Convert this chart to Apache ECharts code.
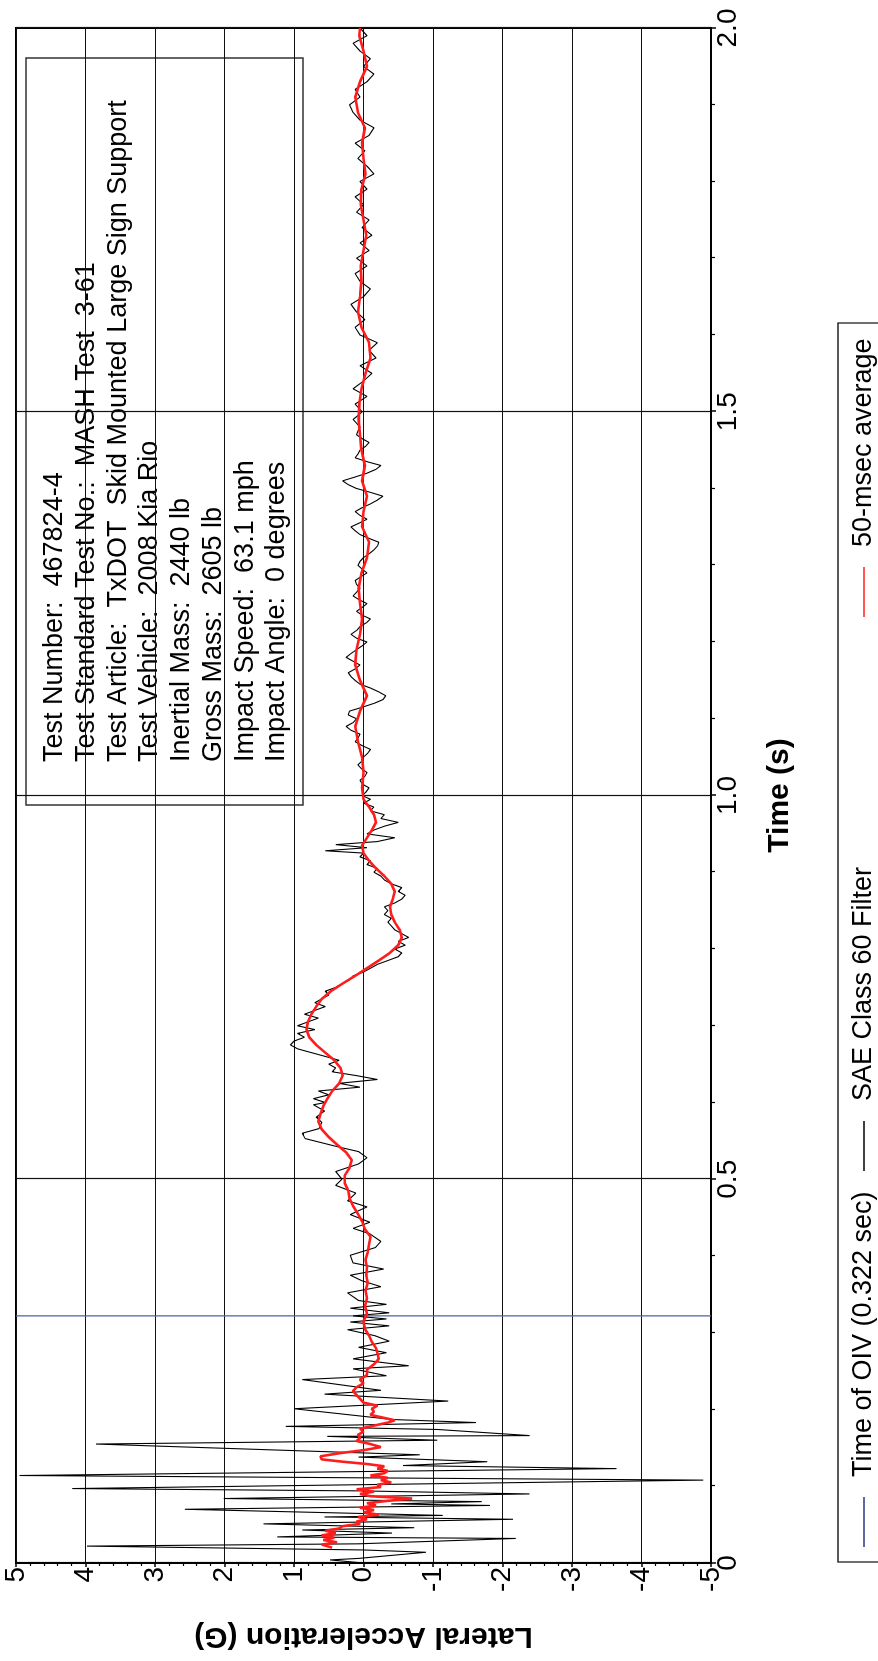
<!DOCTYPE html>
<html><head><meta charset="utf-8">
<script src="https://cdn.jsdelivr.net/npm/echarts@6.0.0/dist/echarts.min.js"></script>
<style>
html,body{margin:0;padding:0;background:#fff;overflow:hidden;width:878px;height:1661px;}
#wrap{position:absolute;left:0;top:0;width:1661px;height:878px;transform-origin:0 0;transform:translateY(1661px) rotate(-90deg);}
</style></head><body><div id="wrap"></div>
<script>
// ---- data ----
const seriesNames = ['Time of OIV (0.322 sec)', 'SAE Class 60 Filter', '50-msec average'];
const oivTime = [0.322];
const timeRange = [0, 2];
const accelRange = [-5, 5];
const infoLines = [
  'Test Number:  467824-4',
  'Test Standard Test No.:  MASH Test  3-61',
  'Test Article:  TxDOT  Skid Mounted Large Sign Support',
  'Test Vehicle:  2008 Kia Rio',
  'Inertial Mass:  2440 lb',
  'Gross Mass:  2605 lb',
  'Impact Speed:  63.1 mph',
  'Impact Angle:  0 degrees'
];
// SAE Class 60 filtered trace [time s, accel G]
const saeEarly = [[0.000,0.00],[0.004,0.48],[0.006,0.07],[0.014,-0.90],[0.017,0.00],[0.022,3.98],[0.025,0.07],[0.032,-2.19],[0.034,1.24],[0.039,-0.41],[0.043,0.88],[0.046,-0.73],[0.051,1.44],[0.057,-2.15],[0.060,0.56],[0.062,-1.14],[0.070,2.57],[0.075,-1.82],[0.077,-0.40],[0.080,-1.70],[0.084,2.01],[0.090,-2.39],[0.094,0.07],[0.097,4.19],[0.108,-4.89],[0.114,4.95],[0.123,-3.64],[0.127,-0.57],[0.132,-1.78],[0.138,0.07],[0.141,-0.81],[0.155,3.85],[0.160,-1.06],[0.165,0.52],[0.166,-2.39],[0.174,-1.06],[0.178,1.12],[0.183,-1.62],[0.187,-0.41],[0.201,1.00],[0.211,-1.22],[0.220,0.56],[0.225,-0.25],[0.239,0.88],[0.244,-0.33],[0.253,0.15],[0.257,-0.65],[0.266,0.15],[0.274,-0.33],[0.281,0.07],[0.289,-0.37],[0.296,-0.17]];
const saeMid = [[0.304,0.23],[0.309,-0.37],[0.314,0.19],[0.318,-0.33],[0.322,0.15],[0.326,-0.37],[0.332,0.19],[0.337,-0.33],[0.342,0.07],[0.352,0.23],[0.360,-0.25],[0.368,0.03],[0.375,0.19],[0.383,-0.29],[0.391,0.15],[0.401,0.19],[0.411,-0.17],[0.419,-0.25],[0.429,-0.09],[0.436,0.15],[0.444,-0.09],[0.454,0.19],[0.464,-0.05],[0.472,0.23],[0.482,0.11],[0.492,0.40],[0.500,0.31],[0.510,0.40],[0.520,0.07],[0.528,-0.05],[0.536,0.07],[0.543,0.40],[0.553,0.84],[0.560,0.88],[0.566,0.64],[0.574,0.60],[0.581,0.68],[0.589,0.56],[0.597,0.72],[0.600,0.55],[0.605,0.72],[0.610,0.50],[0.615,0.65],[0.620,0.05],[0.625,0.35],[0.630,-0.20],[0.635,0.10],[0.640,0.45],[0.645,0.40],[0.650,0.50],[0.655,0.35],[0.660,0.55],[0.665,0.75],[0.670,0.95],[0.675,1.05],[0.680,1.00],[0.685,0.85],[0.690,0.95],[0.695,0.70],[0.700,0.95],[0.705,0.80],[0.710,0.65],[0.715,0.85],[0.720,0.70],[0.725,0.55],[0.730,0.70],[0.735,0.60],[0.740,0.50],[0.745,0.55],[0.750,0.40],[0.755,0.30],[0.760,0.20],[0.765,0.15],[0.770,0.00],[0.775,-0.10],[0.780,-0.20],[0.785,-0.35],[0.790,-0.50],[0.795,-0.55],[0.800,-0.45],[0.805,-0.60],[0.810,-0.50],[0.815,-0.65],[0.820,-0.55],[0.825,-0.45],[0.830,-0.40],[0.835,-0.35],[0.840,-0.40],[0.845,-0.30],[0.850,-0.35],[0.855,-0.30],[0.860,-0.45],[0.865,-0.55],[0.870,-0.60],[0.875,-0.50],[0.880,-0.55],[0.885,-0.40],[0.890,-0.30],[0.895,-0.25],[0.900,-0.15],[0.905,-0.20],[0.910,-0.05],[0.915,-0.10],[0.920,0.05],[0.925,0.00],[0.928,0.55],[0.932,-0.05],[0.936,0.40],[0.940,-0.20],[0.945,-0.45],[0.950,-0.05],[0.955,-0.15],[0.960,-0.30],[0.965,-0.50],[0.970,-0.25],[0.975,-0.30],[0.980,-0.10],[0.985,-0.15],[0.990,0.00],[0.995,-0.10]];
const saeLate = [[1.00,0.02],[1.005,-0.04],[1.01,-0.08],[1.015,0.02],[1.02,0.05],[1.025,-0.02],[1.03,-0.05],[1.035,0.03],[1.04,0.08],[1.045,0.02],[1.05,0.00],[1.055,-0.06],[1.06,-0.10],[1.065,0.02],[1.07,0.12],[1.075,0.08],[1.08,0.05],[1.085,0.18],[1.09,0.25],[1.095,0.15],[1.10,0.10],[1.105,0.22],[1.11,0.20],[1.115,0.02],[1.12,-0.15],[1.125,-0.28],[1.13,-0.32],[1.135,-0.22],[1.14,-0.10],[1.145,0.05],[1.15,0.12],[1.155,0.18],[1.16,0.22],[1.165,0.12],[1.17,0.05],[1.175,0.15],[1.18,0.25],[1.185,0.18],[1.19,0.10],[1.195,0.02],[1.20,-0.05],[1.205,0.10],[1.21,0.18],[1.215,0.10],[1.22,0.05],[1.225,-0.04],[1.23,-0.10],[1.235,0.02],[1.24,0.10],[1.245,0.02],[1.25,-0.05],[1.255,0.06],[1.26,0.15],[1.265,0.10],[1.27,0.05],[1.275,0.10],[1.28,0.12],[1.285,0.04],[1.29,-0.05],[1.295,0.02],[1.30,0.08],[1.305,0.05],[1.31,0.00],[1.315,-0.08],[1.32,-0.15],[1.325,-0.20],[1.33,-0.22],[1.335,-0.08],[1.34,0.05],[1.345,0.12],[1.35,0.18],[1.355,0.06],[1.36,-0.05],[1.365,0.05],[1.37,0.12],[1.375,0.02],[1.38,-0.10],[1.385,-0.20],[1.39,-0.28],[1.395,-0.10],[1.40,0.10],[1.405,0.22],[1.41,0.30],[1.415,0.12],[1.42,-0.05],[1.425,-0.18],[1.43,-0.25],[1.435,-0.05],[1.44,0.12],[1.445,0.08],[1.45,0.05],[1.455,-0.03],[1.46,-0.08],[1.465,0.02],[1.47,0.10],[1.475,0.08],[1.48,0.05],[1.485,0.10],[1.49,0.15],[1.495,0.08],[1.50,0.02],[1.51,0.12],[1.52,-0.05],[1.53,0.15],[1.54,0.00],[1.55,-0.12],[1.56,0.05],[1.57,-0.18],[1.58,-0.08],[1.59,-0.20],[1.60,0.05],[1.61,0.12],[1.62,-0.02],[1.63,0.10],[1.64,0.18],[1.65,0.00],[1.66,-0.10],[1.67,0.05],[1.68,0.12],[1.69,-0.05],[1.70,0.10],[1.71,-0.08],[1.72,0.05],[1.73,-0.12],[1.74,0.02],[1.75,-0.08],[1.76,0.10],[1.77,0.00],[1.78,0.12],[1.79,-0.05],[1.80,0.05],[1.81,-0.15],[1.82,-0.05],[1.83,0.08],[1.84,-0.02],[1.85,0.12],[1.86,-0.08],[1.87,-0.15],[1.88,0.05],[1.89,0.15],[1.90,0.20],[1.91,0.05],[1.92,0.12],[1.93,-0.05],[1.94,-0.15],[1.95,0.00],[1.96,-0.10],[1.97,0.05],[1.98,0.15],[1.99,-0.05],[2.00,0.05]];
// 50-msec moving average [time s, accel G]
const avgEarly = [[0.020,0.45],[0.024,0.60],[0.027,0.38],[0.030,0.58],[0.033,0.42],[0.036,0.60],[0.039,0.40],[0.042,0.55],[0.045,0.35],[0.048,0.30],[0.051,0.05],[0.054,0.10],[0.057,-0.05],[0.060,0.08],[0.063,-0.22],[0.066,0.00],[0.069,-0.15],[0.072,0.05],[0.075,-0.18],[0.078,-0.05],[0.081,-0.35],[0.084,-0.70],[0.087,-0.10],[0.090,0.05],[0.093,-0.15],[0.096,0.10],[0.099,-0.25],[0.102,-0.20],[0.105,-0.40],[0.108,-0.25],[0.111,-0.35],[0.114,-0.10],[0.117,-0.30],[0.120,-0.35],[0.123,-0.20],[0.126,-0.30],[0.129,-0.05],[0.132,0.30],[0.135,0.60],[0.139,0.62],[0.143,0.35],[0.147,0.00],[0.151,-0.25],[0.155,-0.10],[0.159,0.10],[0.163,0.05],[0.167,0.08],[0.171,0.00],[0.175,0.05],[0.179,-0.15],[0.183,-0.35],[0.186,-0.45],[0.189,-0.30],[0.193,-0.10],[0.197,-0.15],[0.201,-0.12],[0.205,-0.20],[0.209,0.00],[0.214,0.05],[0.219,0.10],[0.224,0.15],[0.229,0.10],[0.234,0.00],[0.239,0.05],[0.245,-0.05],[0.252,-0.05],[0.259,-0.15],[0.266,-0.22],[0.273,-0.20],[0.280,-0.18],[0.288,-0.12],[0.296,-0.08],[0.305,-0.02],[0.315,0.00],[0.325,-0.05],[0.335,-0.02],[0.345,-0.05],[0.355,-0.03],[0.365,-0.06],[0.375,-0.04],[0.385,-0.05],[0.395,-0.03],[0.405,-0.06],[0.415,-0.08],[0.425,-0.10],[0.435,-0.02],[0.445,0.02],[0.455,0.08],[0.465,0.15],[0.475,0.20],[0.485,0.22],[0.495,0.27]];
const avgLate = [[0.505,0.27],[0.515,0.20],[0.525,0.17],[0.535,0.25],[0.545,0.38],[0.555,0.50],[0.565,0.60],[0.575,0.65],[0.585,0.62],[0.595,0.58],[0.605,0.52],[0.615,0.45],[0.625,0.35],[0.635,0.30],[0.645,0.33],[0.655,0.42],[0.665,0.55],[0.675,0.68],[0.685,0.78],[0.695,0.82],[0.705,0.80],[0.715,0.75],[0.725,0.68],[0.735,0.60],[0.745,0.47],[0.755,0.30],[0.765,0.12],[0.775,-0.05],[0.785,-0.22],[0.795,-0.38],[0.805,-0.50],[0.815,-0.55],[0.825,-0.52],[0.835,-0.45],[0.845,-0.40],[0.855,-0.38],[0.865,-0.42],[0.875,-0.45],[0.885,-0.40],[0.895,-0.30],[0.905,-0.18],[0.915,-0.08],[0.925,0.00],[0.935,0.02],[0.945,-0.05],[0.955,-0.12],[0.965,-0.18],[0.975,-0.15],[0.985,-0.08],[0.995,0.00],[1.01,0.02],[1.03,0.00],[1.05,0.02],[1.07,0.08],[1.09,0.12],[1.11,0.05],[1.13,-0.05],[1.15,0.05],[1.17,0.12],[1.19,0.10],[1.21,0.05],[1.23,0.02],[1.25,0.05],[1.27,0.07],[1.29,0.03],[1.31,-0.05],[1.33,-0.08],[1.35,0.02],[1.37,0.00],[1.39,-0.05],[1.41,0.02],[1.43,-0.02],[1.45,0.03],[1.47,0.05],[1.49,0.07],[1.51,0.06],[1.53,0.03],[1.55,-0.03],[1.57,-0.10],[1.59,-0.08],[1.61,0.03],[1.63,0.08],[1.65,0.05],[1.67,0.03],[1.69,0.04],[1.71,0.00],[1.73,-0.04],[1.75,0.00],[1.77,0.04],[1.79,0.03],[1.81,-0.03],[1.83,0.00],[1.85,0.02],[1.87,-0.02],[1.89,0.08],[1.91,0.12],[1.93,0.05],[1.95,-0.05],[1.97,0.00],[1.99,0.06],[2.00,0.05]];

// ---- chart ----
const FONT = '"Liberation Sans", Arial, Helvetica, sans-serif';
const chart = echarts.init(document.getElementById('wrap'), null, {width: 1661, height: 878, renderer: 'canvas'});
const axisCommon = {
  axisLine: {onZero: false, lineStyle: {color: '#000', width: 2}},
  axisTick: {show: true, inside: false, length: 5, lineStyle: {color: '#000', width: 1.5}},
  minorTick: {show: true, splitNumber: 5, length: 4, lineStyle: {color: '#000', width: 1.2}},
  splitLine: {show: true, lineStyle: {color: '#111', width: 1.2}},
  minorSplitLine: {show: false}
};
const legendText = {fontFamily: FONT, fontSize: 27, color: '#000', lineHeight: 32, padding: [0, 0, 0, 15]};
function legendAt(name, left) {
  return {left: left, top: 848, orient: 'horizontal', data: [name], icon: 'rect',
          itemWidth: 50, itemHeight: 1.5, selectedMode: false, padding: 0, z: 120,
          textStyle: legendText};
}
chart.setOption({
  animation: false,
  backgroundColor: '#fff',
  grid: {left: 98, right: 28, top: 16, bottom: 167, show: true, borderColor: '#000', borderWidth: 2, backgroundColor: 'rgba(0,0,0,0)'},
  xAxis: Object.assign({
    type: 'value', min: timeRange[0], max: timeRange[1], interval: 0.5,
    axisLabel: {fontFamily: FONT, fontSize: 28, color: '#000', margin: 3,
      formatter: v => (v === 0 ? '0' : v.toFixed(1))},
    name: 'Time (s)', nameLocation: 'middle', nameGap: 54,
    nameTextStyle: {fontFamily: FONT, fontSize: 30, fontWeight: 'bold', color: '#000'}
  }, axisCommon),
  yAxis: Object.assign({
    type: 'value', min: accelRange[0], max: accelRange[1], interval: 1,
    axisLabel: {fontFamily: FONT, fontSize: 28, color: '#000', margin: 4},
    name: 'Lateral Acceleration (G)', nameLocation: 'middle', nameRotate: 90, nameGap: 58,
    nameTextStyle: {fontFamily: FONT, fontSize: 30, fontWeight: 'bold', color: '#000'}
  }, axisCommon, {axisTick: {show: true, inside: false, length: 4, lineStyle: {color: '#000', width: 1.5}},
                  minorTick: {show: true, splitNumber: 5, length: 3, lineStyle: {color: '#000', width: 1.2}}}),
  legend: [legendAt(seriesNames[0], 114), legendAt(seriesNames[1], 490), legendAt(seriesNames[2], 1044)],
  graphic: [{
    type: 'group', z: 100,
    children: [
      {type: 'rect', shape: {x: 856, y: 26, width: 747, height: 277},
       style: {fill: '#fff', stroke: '#333', lineWidth: 1.5}},
      {type: 'text', x: 899, y: 39,
       style: {text: infoLines.join('\n'), fontFamily: FONT, fontSize: 27, lineHeight: 31.7,
               fill: '#000', align: 'left', verticalAlign: 'top'}},
      {type: 'rect', shape: {x: 99, y: 838, width: 1239, height: 60},
       style: {fill: '#fff', stroke: '#222', lineWidth: 1.3}}
    ]
  }],
  series: [
    {name: seriesNames[0], type: 'line', symbol: 'none', silent: true,
     data: [[oivTime[0], accelRange[0]], [oivTime[0], accelRange[1]]],
     lineStyle: {color: '#5566a8', width: 1.3}, itemStyle: {color: '#2a3580'}, z: 2},
    {name: seriesNames[1], type: 'line', symbol: 'none', silent: true,
     data: saeEarly.concat(saeMid, saeLate),
     lineStyle: {color: '#000', width: 1.1}, itemStyle: {color: '#000'}, z: 3},
    {name: seriesNames[2], type: 'line', symbol: 'none', silent: true,
     data: avgEarly.concat(avgLate),
     lineStyle: {color: '#ff1c1c', width: 2.6}, itemStyle: {color: '#ff1c1c'}, z: 4}
  ]
});
</script>
</body></html>
